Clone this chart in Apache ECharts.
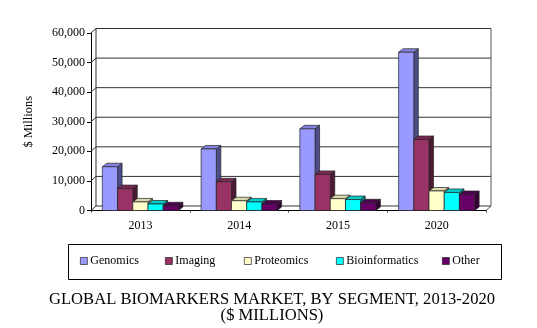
<!DOCTYPE html>
<html>
<head>
<meta charset="utf-8">
<script src="https://cdn.jsdelivr.net/npm/echarts@6/dist/echarts.min.js"></script>
<style>
  html, body { margin: 0; padding: 0; background: #fff; }
  #chart { width: 537px; height: 328px; }
</style>
</head>
<body>
<div id="chart"></div>
<script>
// Market size by segment, $ millions
const years = ['2013', '2014', '2015', '2020'];
const genomics = [14800, 20800, 27600, 53500];
const imaging = [7400, 9700, 12200, 24000];
const proteomics = [2900, 3300, 4000, 6600];
const bioinformatics = [2200, 2900, 3700, 6100];
const other = [1600, 2200, 2600, 5400];
const segmentNames = ['Genomics', 'Imaging', 'Proteomics', 'Bioinformatics', 'Other'];
const yTicks = [0, 10000, 20000, 30000, 40000, 50000, 60000];

const segmentValues = [genomics, imaging, proteomics, bioinformatics, other];
// front, side and top face colours per segment
const faceColors = [
  { front: '#9999FF', side: '#4D4D8C', top: '#8484E0' },
  { front: '#993366', side: '#4D1933', top: '#7A2952' },
  { front: '#FFFFCC', side: '#8C8C70', top: '#D8D8AC' },
  { front: '#00FFFF', side: '#008080', top: '#00CCCC' },
  { front: '#660066', side: '#330033', top: '#4D004D' }
];

// depth offsets of the pseudo-3D walls and bars
const WALL_DX = 5, WALL_DY = -4.5;
const BAR_DX = 4.5, BAR_DY = -3.5;
const BAR_FRAC = 0.154;
const EDGE = '#222';

function bandEdges(api) {
  const band = api.size([1, 0])[0];
  const first = api.coord([0, 0]);
  const last = api.coord([years.length - 1, 0]);
  return { left: first[0] - band / 2, right: last[0] + band / 2, band: band };
}

// walls, gridlines and floor of the 3D frame
function renderFrame(params, api) {
  const e = bandEdges(api);
  const L = e.left, R = e.right;
  const y0 = api.coord([0, yTicks[0]])[1];
  const yTop = api.coord([0, yTicks[yTicks.length - 1]])[1];
  const children = [];
  const line = (x1, y1, x2, y2, color) => children.push({
    type: 'line',
    shape: { x1: x1, y1: y1, x2: x2, y2: y2 },
    style: { stroke: color || '#000', lineWidth: 1 },
    silent: true
  });
  yTicks.forEach(v => {
    const y = api.coord([0, v])[1];
    line(L + WALL_DX, y + WALL_DY, R + WALL_DX, y + WALL_DY, '#333');
    line(L, y, L + WALL_DX, y + WALL_DY, '#333');
  });
  line(L + WALL_DX, y0 + WALL_DY, L + WALL_DX, yTop + WALL_DY, '#333');
  line(R + WALL_DX, y0 + WALL_DY, R + WALL_DX, yTop + WALL_DY, '#555');
  line(R, y0, R + WALL_DX, y0 + WALL_DY, '#555');
  return { type: 'group', children: children };
}

function makeBarRenderer(segIdx) {
  const col = faceColors[segIdx];
  return function (params, api) {
    const cat = api.value(0);
    const v = api.value(1);
    const band = api.size([1, 0])[0];
    const w = band * BAR_FRAC;
    const base = api.coord([cat, 0]);
    const top = api.coord([cat, v]);
    const x0 = base[0] + (segIdx - segmentNames.length / 2) * w;
    const x1 = x0 + w;
    const yb = base[1], yt = top[1];
    const edge = { stroke: EDGE, lineWidth: 0.7 };
    return {
      type: 'group',
      children: [
        {
          type: 'polygon',
          shape: { points: [[x1, yt], [x1 + BAR_DX, yt + BAR_DY], [x1 + BAR_DX, yb + BAR_DY], [x1, yb]] },
          style: Object.assign({ fill: col.side }, edge)
        },
        {
          type: 'polygon',
          shape: { points: [[x0, yt], [x1, yt], [x1 + BAR_DX, yt + BAR_DY], [x0 + BAR_DX, yt + BAR_DY]] },
          style: Object.assign({ fill: col.top }, edge)
        },
        {
          type: 'rect',
          shape: { x: x0, y: yt, width: w, height: yb - yt },
          style: Object.assign({ fill: col.front }, edge)
        }
      ]
    };
  };
}

const serif = '"Liberation Serif", "Times New Roman", serif';

const series = [{
  type: 'custom',
  name: 'frame',
  renderItem: renderFrame,
  data: [[0, 0]],
  silent: true,
  z: 1,
  clip: false
}];
segmentNames.forEach((name, i) => {
  series.push({
    type: 'custom',
    name: name,
    renderItem: makeBarRenderer(i),
    data: segmentValues[i].map((v, k) => [k, v]),
    itemStyle: { color: faceColors[i].front, borderColor: EDGE, borderWidth: 0.7 },
    z: 3,
    clip: false
  });
});

const legendLefts = [80, 165, 244, 336, 442];
const legends = segmentNames.map((name, i) => ({
  data: [{ name: name, icon: 'rect' }],
  left: legendLefts[i],
  top: 255,
  padding: 0,
  itemWidth: 7,
  itemHeight: 7,
  itemGap: 3,
  selectedMode: false,
  itemStyle: { borderColor: EDGE, borderWidth: 0.7 },
  textStyle: { fontFamily: serif, fontSize: 12, color: '#000', padding: [0, 0, 0, -2] }
}));

const chart = echarts.init(document.getElementById('chart'), null, { renderer: 'canvas' });
chart.setOption({
  animation: false,
  backgroundColor: '#fff',
  grid: { left: 91, right: 51, top: 33, bottom: 117.5, containLabel: false },
  title: {
    text: 'GLOBAL BIOMARKERS MARKET, BY SEGMENT, 2013-2020\n($ MILLIONS)',
    left: 267,
    top: 287,
    textAlign: 'center',
    textStyle: { fontFamily: serif, fontSize: 16.6, fontWeight: 'normal', color: '#000', lineHeight: 15.5 }
  },
  legend: legends,
  graphic: [{
    type: 'rect',
    left: 66, top: 242,
    shape: { width: 433, height: 35 },
    style: { fill: 'none', stroke: '#000', lineWidth: 1 },
    silent: true
  }],
  xAxis: {
    type: 'category',
    data: years,
    axisLine: { show: true, lineStyle: { color: '#000', width: 1 } },
    axisTick: { show: true, alignWithLabel: false, length: 2, lineStyle: { color: '#333' } },
    axisLabel: { fontFamily: serif, fontSize: 12, color: '#000', margin: 9 },
    splitLine: { show: false }
  },
  yAxis: {
    type: 'value',
    min: 0,
    max: 60000,
    interval: 10000,
    name: '$ Millions',
    nameLocation: 'middle',
    nameGap: 56,
    nameRotate: 90,
    nameTextStyle: { fontFamily: serif, fontSize: 12.5, color: '#000' },
    axisLine: { show: true, lineStyle: { color: '#000', width: 1 } },
    axisTick: { show: true, length: 4, lineStyle: { color: '#000' } },
    axisLabel: {
      fontFamily: serif, fontSize: 12, color: '#000', margin: 6,
      formatter: v => v.toLocaleString('en-US')
    },
    splitLine: { show: false }
  },
  series: series
});
</script>
</body>
</html>
